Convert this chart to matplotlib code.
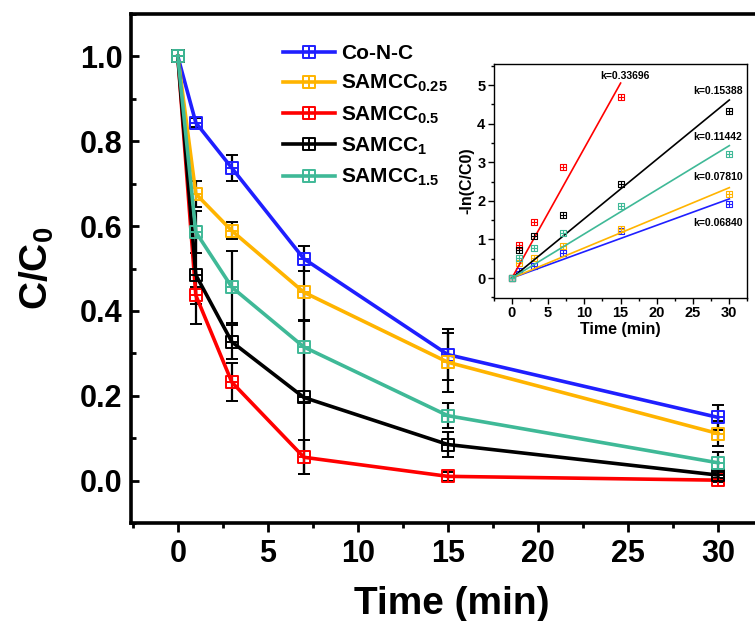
import numpy as np
import matplotlib
matplotlib.use("Agg")
import matplotlib.pyplot as plt
from matplotlib.path import Path
from matplotlib.ticker import MultipleLocator

plt.rcParams['font.family'] = ['Liberation Sans', 'DejaVu Sans']
plt.rcParams['font.weight'] = 'bold'
plt.rcParams['mathtext.fontset'] = 'custom'
plt.rcParams['mathtext.rm'] = 'Liberation Sans:bold'
plt.rcParams['mathtext.bf'] = 'Liberation Sans:bold'
plt.rcParams['mathtext.it'] = 'Liberation Sans:bold'
plt.rcParams['mathtext.default'] = 'rm'

# main panel data: C/C0 versus time
time = [0, 1, 3, 7, 15, 30]
labels = ["Co-N-C", "SAMCC$_{0.25}$", "SAMCC$_{0.5}$", "SAMCC$_{1}$", "SAMCC$_{1.5}$"]
colors = ["#1f1fff", "#ffb400", "#ff0000", "#000000", "#3fb997"]

co_n_c = [1.0, 0.844, 0.737, 0.523, 0.297, 0.149]
samcc_025 = [1.0, 0.676, 0.589, 0.444, 0.279, 0.111]
samcc_05 = [1.0, 0.437, 0.232, 0.055, 0.010, 0.001]
samcc_1 = [1.0, 0.485, 0.327, 0.196, 0.085, 0.013]
samcc_15 = [1.0, 0.586, 0.456, 0.315, 0.153, 0.042]

co_n_c_err = [0, 0.010, 0.030, 0.030, 0.060, 0.030]
samcc_025_err = [0, 0.030, 0.020, 0.065, 0.070, 0.030]
samcc_05_err = [0, 0.020, 0.045, 0.040, 0.010, 0.005]
samcc_1_err = [0, 0.115, 0.040, 0.180, 0.030, 0.010]
samcc_15_err = [0, 0.050, 0.085, 0.130, 0.030, 0.025]

# inset data: -ln(C/C0) and fitted rate constants
inset_time = [0, 1, 3, 7, 15, 30]
ln_co_n_c = [0, 0.17, 0.31, 0.65, 1.21, 1.92]
ln_samcc_025 = [0, 0.38, 0.53, 0.82, 1.27, 2.17]
ln_samcc_05 = [0, 0.85, 1.45, 2.87, 4.69]
ln_samcc_1 = [0, 0.72, 1.10, 1.63, 2.44, 4.33]
ln_samcc_15 = [0, 0.53, 0.78, 1.16, 1.88, 3.21]
k_values = [0.06840, 0.07810, 0.33696, 0.15388, 0.11442]
fit_end = [30, 30, 15, 30, 30]
k_label_pos = [(31.8, 1.42, 'right'), (31.8, 2.62, 'right'), (15.6, 5.23, 'center'),
               (31.8, 4.84, 'right'), (31.8, 3.65, 'right')]

# square with a cross inside
box_marker = Path([(-1, -1), (1, -1), (1, 1), (-1, 1), (-1, -1),
                   (0, -1), (0, 1), (-1, 0), (1, 0)],
                  [Path.MOVETO, Path.LINETO, Path.LINETO, Path.LINETO, Path.CLOSEPOLY,
                   Path.MOVETO, Path.LINETO, Path.MOVETO, Path.LINETO])

fig = plt.figure(figsize=(7.55, 6.21), dpi=100)
ax = fig.add_axes([0.1735, 0.1578, 0.849, 0.8196])

series = [co_n_c, samcc_025, samcc_05, samcc_1, samcc_15]
errors = [co_n_c_err, samcc_025_err, samcc_05_err, samcc_1_err, samcc_15_err]
for y, e, c, lab in zip(series, errors, colors, labels):
    ax.errorbar(time, y, yerr=e, color=c, lw=2.6, marker=box_marker, ms=9,
                mfc='none', mec=c, mew=1.4, ecolor='k', elinewidth=1.6,
                capsize=4.5, capthick=1.6, label=lab)

ax.set_xlim(-2.6, 33.0)
ax.set_ylim(-0.10, 1.10)
ax.xaxis.set_major_locator(MultipleLocator(5))
ax.xaxis.set_minor_locator(MultipleLocator(2.5))
ax.yaxis.set_major_locator(MultipleLocator(0.2))
ax.yaxis.set_minor_locator(MultipleLocator(0.1))
ax.tick_params(axis='x', which='major', direction='out', length=6.5, width=2, labelsize=22, pad=5)
ax.tick_params(axis='x', which='minor', direction='out', length=3.3, width=2)
ax.tick_params(axis='y', which='major', direction='in', length=6, width=2, labelsize=22, pad=6)
ax.tick_params(axis='y', which='minor', direction='in', length=3.5, width=2)
for lbl in ax.get_xticklabels() + ax.get_yticklabels():
    lbl.set_fontweight('bold')
for sp in ax.spines.values():
    sp.set_linewidth(2.6)
ax.set_xlabel("Time (min)", fontsize=28, fontweight='bold', labelpad=12)
ax.set_ylabel("C/C$_0$", fontsize=28, fontweight='bold', labelpad=17)

handles, leg_labels = ax.get_legend_handles_labels()
handles = [h[0] for h in handles]
leg = ax.legend(handles, leg_labels, loc='upper left', bbox_to_anchor=(0.237, 0.941),
                frameon=False, fontsize=15, handlelength=2.5, handletextpad=0.3,
                labelspacing=0.48, borderaxespad=0, borderpad=0)
for t in leg.get_texts():
    t.set_fontweight('bold')

# inset
ins = fig.add_axes([0.654, 0.520, 0.336, 0.377])
ins_series = [ln_co_n_c, ln_samcc_025, ln_samcc_05, ln_samcc_1, ln_samcc_15]
for y, c, k, tend, (tx, ty, ha) in zip(ins_series, colors, k_values, fit_end, k_label_pos):
    tt = np.array([0, tend])
    ins.plot(tt, k * tt, color=c, lw=1.2)
    ins.plot(inset_time[:len(y)], y, ls='none', marker=box_marker, ms=4.5,
             mfc='none', mec=c, mew=0.8)
    ins.text(tx, ty, "k=%.5f" % k, fontsize=7.5, fontweight='bold', ha=ha, va='center')

ins.set_xlim(-2.5, 32.5)
ins.set_ylim(-0.52, 5.55)
ins.xaxis.set_major_locator(MultipleLocator(5))
ins.xaxis.set_minor_locator(MultipleLocator(2.5))
ins.yaxis.set_major_locator(MultipleLocator(1))
ins.yaxis.set_minor_locator(MultipleLocator(0.5))
ins.tick_params(which='major', direction='out', length=4, width=1, labelsize=10.5, pad=2)
ins.tick_params(which='minor', direction='out', length=2, width=1)
for lbl in ins.get_xticklabels() + ins.get_yticklabels():
    lbl.set_fontweight('bold')
for sp in ins.spines.values():
    sp.set_linewidth(1.0)
ins.set_xlabel("Time (min)", fontsize=11.5, fontweight='bold', labelpad=1)
ins.set_ylabel("-ln(C/C0)", fontsize=11.5, fontweight='bold', labelpad=2)

fig.savefig("out.png", dpi=100)
